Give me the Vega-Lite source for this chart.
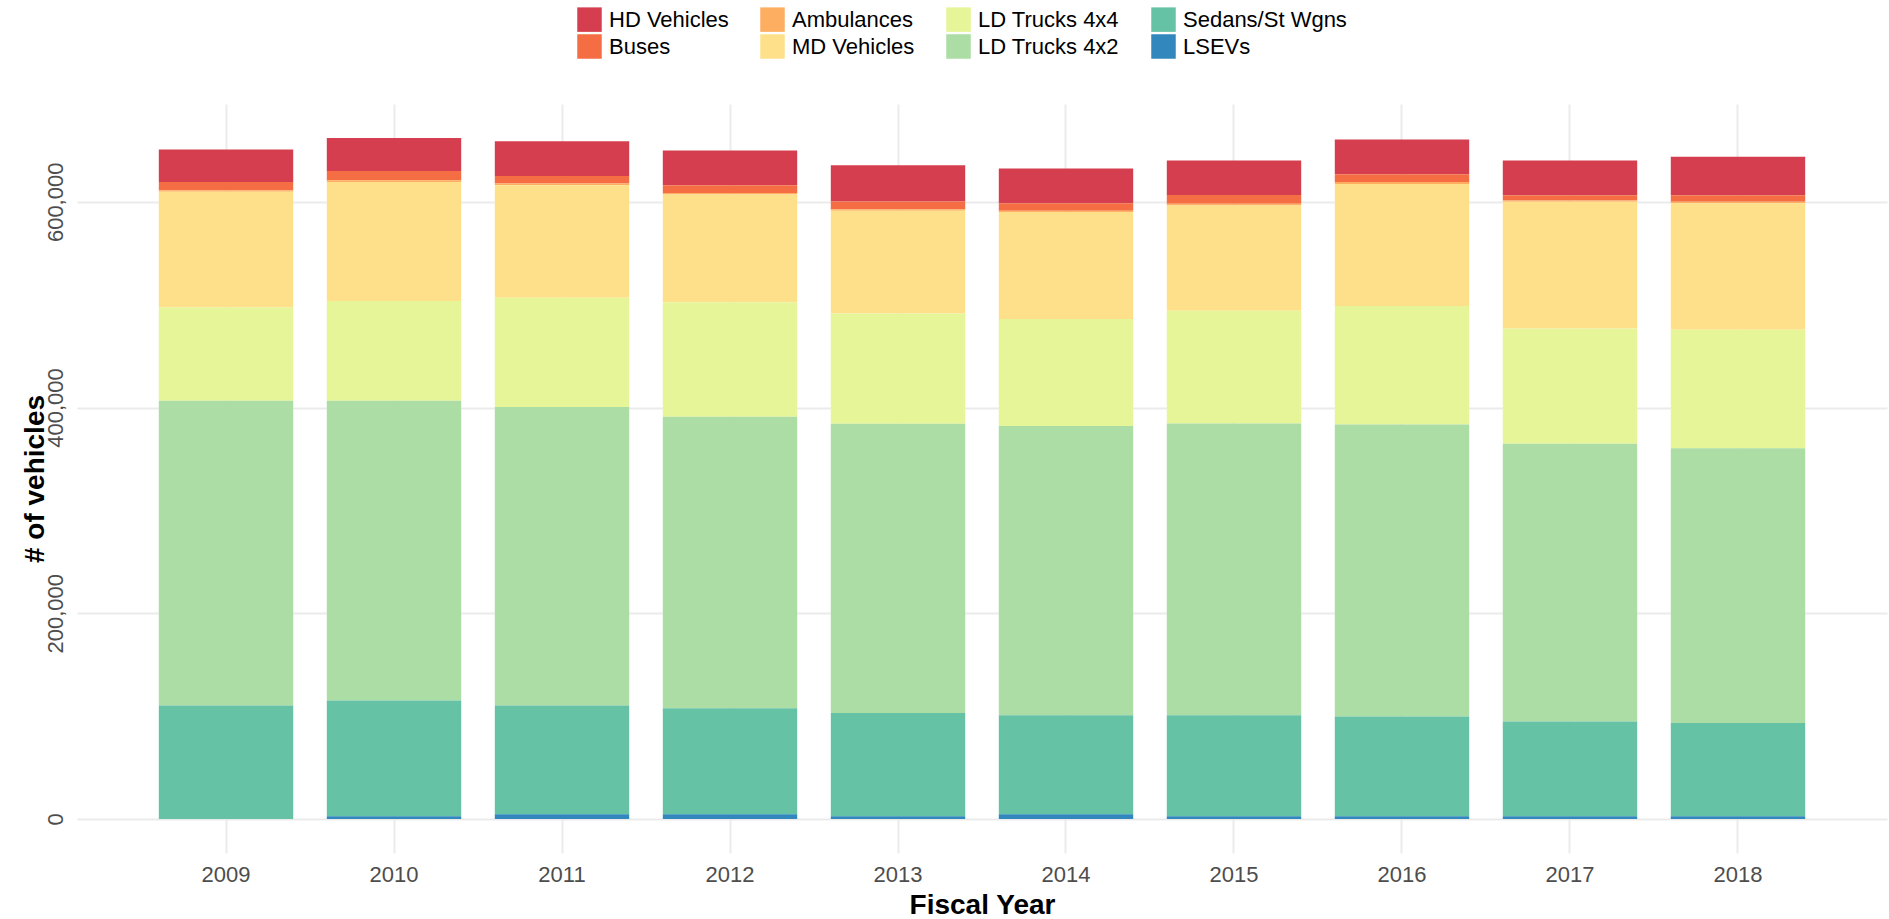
{
  "$schema": "https://vega.github.io/schema/vega-lite/v6.json",
  "width": 1810,
  "height": 749,
  "autosize": {"type": "none"},
  "padding": {"left": 77, "top": 104, "right": 2, "bottom": 66},
  "background": "white",
  "config": {"view": {"stroke": null}, "font": "Liberation Sans"},
  "data": {"values": [
    {"year": "2009", "type": "HD Vehicles", "count": 31700},
    {"year": "2009", "type": "Buses", "count": 8000},
    {"year": "2009", "type": "Ambulances", "count": 1400},
    {"year": "2009", "type": "MD Vehicles", "count": 112500},
    {"year": "2009", "type": "LD Trucks 4x4", "count": 90600},
    {"year": "2009", "type": "LD Trucks 4x2", "count": 296400},
    {"year": "2009", "type": "Sedans/St Wgns", "count": 110300},
    {"year": "2009", "type": "LSEVs", "count": 0},
    {"year": "2010", "type": "HD Vehicles", "count": 32100},
    {"year": "2010", "type": "Buses", "count": 8900},
    {"year": "2010", "type": "Ambulances", "count": 1800},
    {"year": "2010", "type": "MD Vehicles", "count": 115600},
    {"year": "2010", "type": "LD Trucks 4x4", "count": 96900},
    {"year": "2010", "type": "LD Trucks 4x2", "count": 291500},
    {"year": "2010", "type": "Sedans/St Wgns", "count": 112500},
    {"year": "2010", "type": "LSEVs", "count": 2700},
    {"year": "2011", "type": "HD Vehicles", "count": 33900},
    {"year": "2011", "type": "Buses", "count": 7100},
    {"year": "2011", "type": "Ambulances", "count": 1800},
    {"year": "2011", "type": "MD Vehicles", "count": 109400},
    {"year": "2011", "type": "LD Trucks 4x4", "count": 106200},
    {"year": "2011", "type": "LD Trucks 4x2", "count": 290200},
    {"year": "2011", "type": "Sedans/St Wgns", "count": 105800},
    {"year": "2011", "type": "LSEVs", "count": 4500},
    {"year": "2012", "type": "HD Vehicles", "count": 33900},
    {"year": "2012", "type": "Buses", "count": 7600},
    {"year": "2012", "type": "Ambulances", "count": 1300},
    {"year": "2012", "type": "MD Vehicles", "count": 104900},
    {"year": "2012", "type": "LD Trucks 4x4", "count": 111200},
    {"year": "2012", "type": "LD Trucks 4x2", "count": 283500},
    {"year": "2012", "type": "Sedans/St Wgns", "count": 103100},
    {"year": "2012", "type": "LSEVs", "count": 4500},
    {"year": "2013", "type": "HD Vehicles", "count": 35300},
    {"year": "2013", "type": "Buses", "count": 7600},
    {"year": "2013", "type": "Ambulances", "count": 1300},
    {"year": "2013", "type": "MD Vehicles", "count": 100000},
    {"year": "2013", "type": "LD Trucks 4x4", "count": 107100},
    {"year": "2013", "type": "LD Trucks 4x2", "count": 281200},
    {"year": "2013", "type": "Sedans/St Wgns", "count": 100400},
    {"year": "2013", "type": "LSEVs", "count": 2700},
    {"year": "2014", "type": "HD Vehicles", "count": 33900},
    {"year": "2014", "type": "Buses", "count": 7100},
    {"year": "2014", "type": "Ambulances", "count": 1300},
    {"year": "2014", "type": "MD Vehicles", "count": 104000},
    {"year": "2014", "type": "LD Trucks 4x4", "count": 104000},
    {"year": "2014", "type": "LD Trucks 4x2", "count": 281200},
    {"year": "2014", "type": "Sedans/St Wgns", "count": 96400},
    {"year": "2014", "type": "LSEVs", "count": 4500},
    {"year": "2015", "type": "HD Vehicles", "count": 33500},
    {"year": "2015", "type": "Buses", "count": 8500},
    {"year": "2015", "type": "Ambulances", "count": 1800},
    {"year": "2015", "type": "MD Vehicles", "count": 102200},
    {"year": "2015", "type": "LD Trucks 4x4", "count": 109800},
    {"year": "2015", "type": "LD Trucks 4x2", "count": 283500},
    {"year": "2015", "type": "Sedans/St Wgns", "count": 98200},
    {"year": "2015", "type": "LSEVs", "count": 2700},
    {"year": "2016", "type": "HD Vehicles", "count": 33900},
    {"year": "2016", "type": "Buses", "count": 7600},
    {"year": "2016", "type": "Ambulances", "count": 1800},
    {"year": "2016", "type": "MD Vehicles", "count": 118700},
    {"year": "2016", "type": "LD Trucks 4x4", "count": 115200},
    {"year": "2016", "type": "LD Trucks 4x2", "count": 283900},
    {"year": "2016", "type": "Sedans/St Wgns", "count": 96900},
    {"year": "2016", "type": "LSEVs", "count": 2700},
    {"year": "2017", "type": "HD Vehicles", "count": 33900},
    {"year": "2017", "type": "Buses", "count": 4900},
    {"year": "2017", "type": "Ambulances", "count": 1300},
    {"year": "2017", "type": "MD Vehicles", "count": 123200},
    {"year": "2017", "type": "LD Trucks 4x4", "count": 112100},
    {"year": "2017", "type": "LD Trucks 4x2", "count": 270100},
    {"year": "2017", "type": "Sedans/St Wgns", "count": 92000},
    {"year": "2017", "type": "LSEVs", "count": 2700},
    {"year": "2018", "type": "HD Vehicles", "count": 37500},
    {"year": "2018", "type": "Buses", "count": 6300},
    {"year": "2018", "type": "Ambulances", "count": 1300},
    {"year": "2018", "type": "MD Vehicles", "count": 123200},
    {"year": "2018", "type": "LD Trucks 4x4", "count": 115200},
    {"year": "2018", "type": "LD Trucks 4x2", "count": 267000},
    {"year": "2018", "type": "Sedans/St Wgns", "count": 90600},
    {"year": "2018", "type": "LSEVs", "count": 2700}
  ]},
  "transform": [
    {"calculate": "indexof(['LSEVs','Sedans/St Wgns','LD Trucks 4x2','LD Trucks 4x4','MD Vehicles','Ambulances','Buses','HD Vehicles'], datum.type)", "as": "stack_rank"}
  ],
  "mark": {"type": "bar"},
  "encoding": {
    "x": {
      "field": "year",
      "type": "ordinal",
      "scale": {"paddingInner": 0.2, "paddingOuter": 0.487},
      "axis": {
        "title": "Fiscal Year",
        "titleFont": "Liberation Sans",
        "titleFontSize": 28,
        "titleFontWeight": "bold",
        "titleColor": "black",
        "titleBaseline": "alphabetic",
        "titleY": 60,
        "labelAngle": 0,
        "labelFont": "Liberation Sans",
        "labelFontSize": 22,
        "labelColor": "#4D4D4D",
        "labelPadding": 11,
        "labelBaseline": "top",
        "ticks": false,
        "tickSize": 0,
        "domain": false,
        "grid": true,
        "gridColor": "#EBEBEB",
        "gridWidth": 2,
        "bandPosition": 0.5
      }
    },
    "y": {
      "field": "count",
      "type": "quantitative",
      "stack": "zero",
      "scale": {"domain": [-33100, 695100], "nice": false, "zero": false},
      "axis": {
        "title": "# of vehicles",
        "values": [0, 200000, 400000, 600000],
        "format": ",d",
        "labelAngle": 270,
        "labelAlign": "center",
        "labelBaseline": "alphabetic",
        "labelPadding": 15,
        "labelFont": "Liberation Sans",
        "labelFontSize": 22,
        "labelColor": "#4D4D4D",
        "ticks": false,
        "tickSize": 0,
        "domain": false,
        "grid": true,
        "gridColor": "#EBEBEB",
        "gridWidth": 2,
        "titleAngle": 270,
        "titleAlign": "center",
        "titleBaseline": "alphabetic",
        "titleX": -34,
        "titleY": 374.5,
        "titleFont": "Liberation Sans",
        "titleFontSize": 28,
        "titleFontWeight": "bold",
        "titleColor": "black"
      }
    },
    "color": {
      "field": "type",
      "type": "nominal",
      "scale": {
        "domain": ["HD Vehicles", "Ambulances", "LD Trucks 4x4", "Sedans/St Wgns", "Buses", "MD Vehicles", "LD Trucks 4x2", "LSEVs"],
        "range": ["#D53E4F", "#FDAE61", "#E6F598", "#66C2A5", "#F46D43", "#FEE08B", "#ABDDA4", "#3288BD"]
      },
      "legend": {
        "orient": "none",
        "legendX": 500,
        "legendY": -97,
        "direction": "horizontal",
        "columns": 4,
        "title": null,
        "symbolType": "square",
        "symbolSize": 600,
        "symbolStrokeWidth": 0,
        "symbolOpacity": 1,
        "labelFont": "Liberation Sans",
        "labelFontSize": 22,
        "labelColor": "black",
        "labelOffset": 7,
        "labelLimit": 400,
        "columnPadding": 31,
        "rowPadding": 2,
        "padding": 0
      }
    },
    "order": {"field": "stack_rank", "type": "quantitative", "sort": "ascending"}
  }
}
